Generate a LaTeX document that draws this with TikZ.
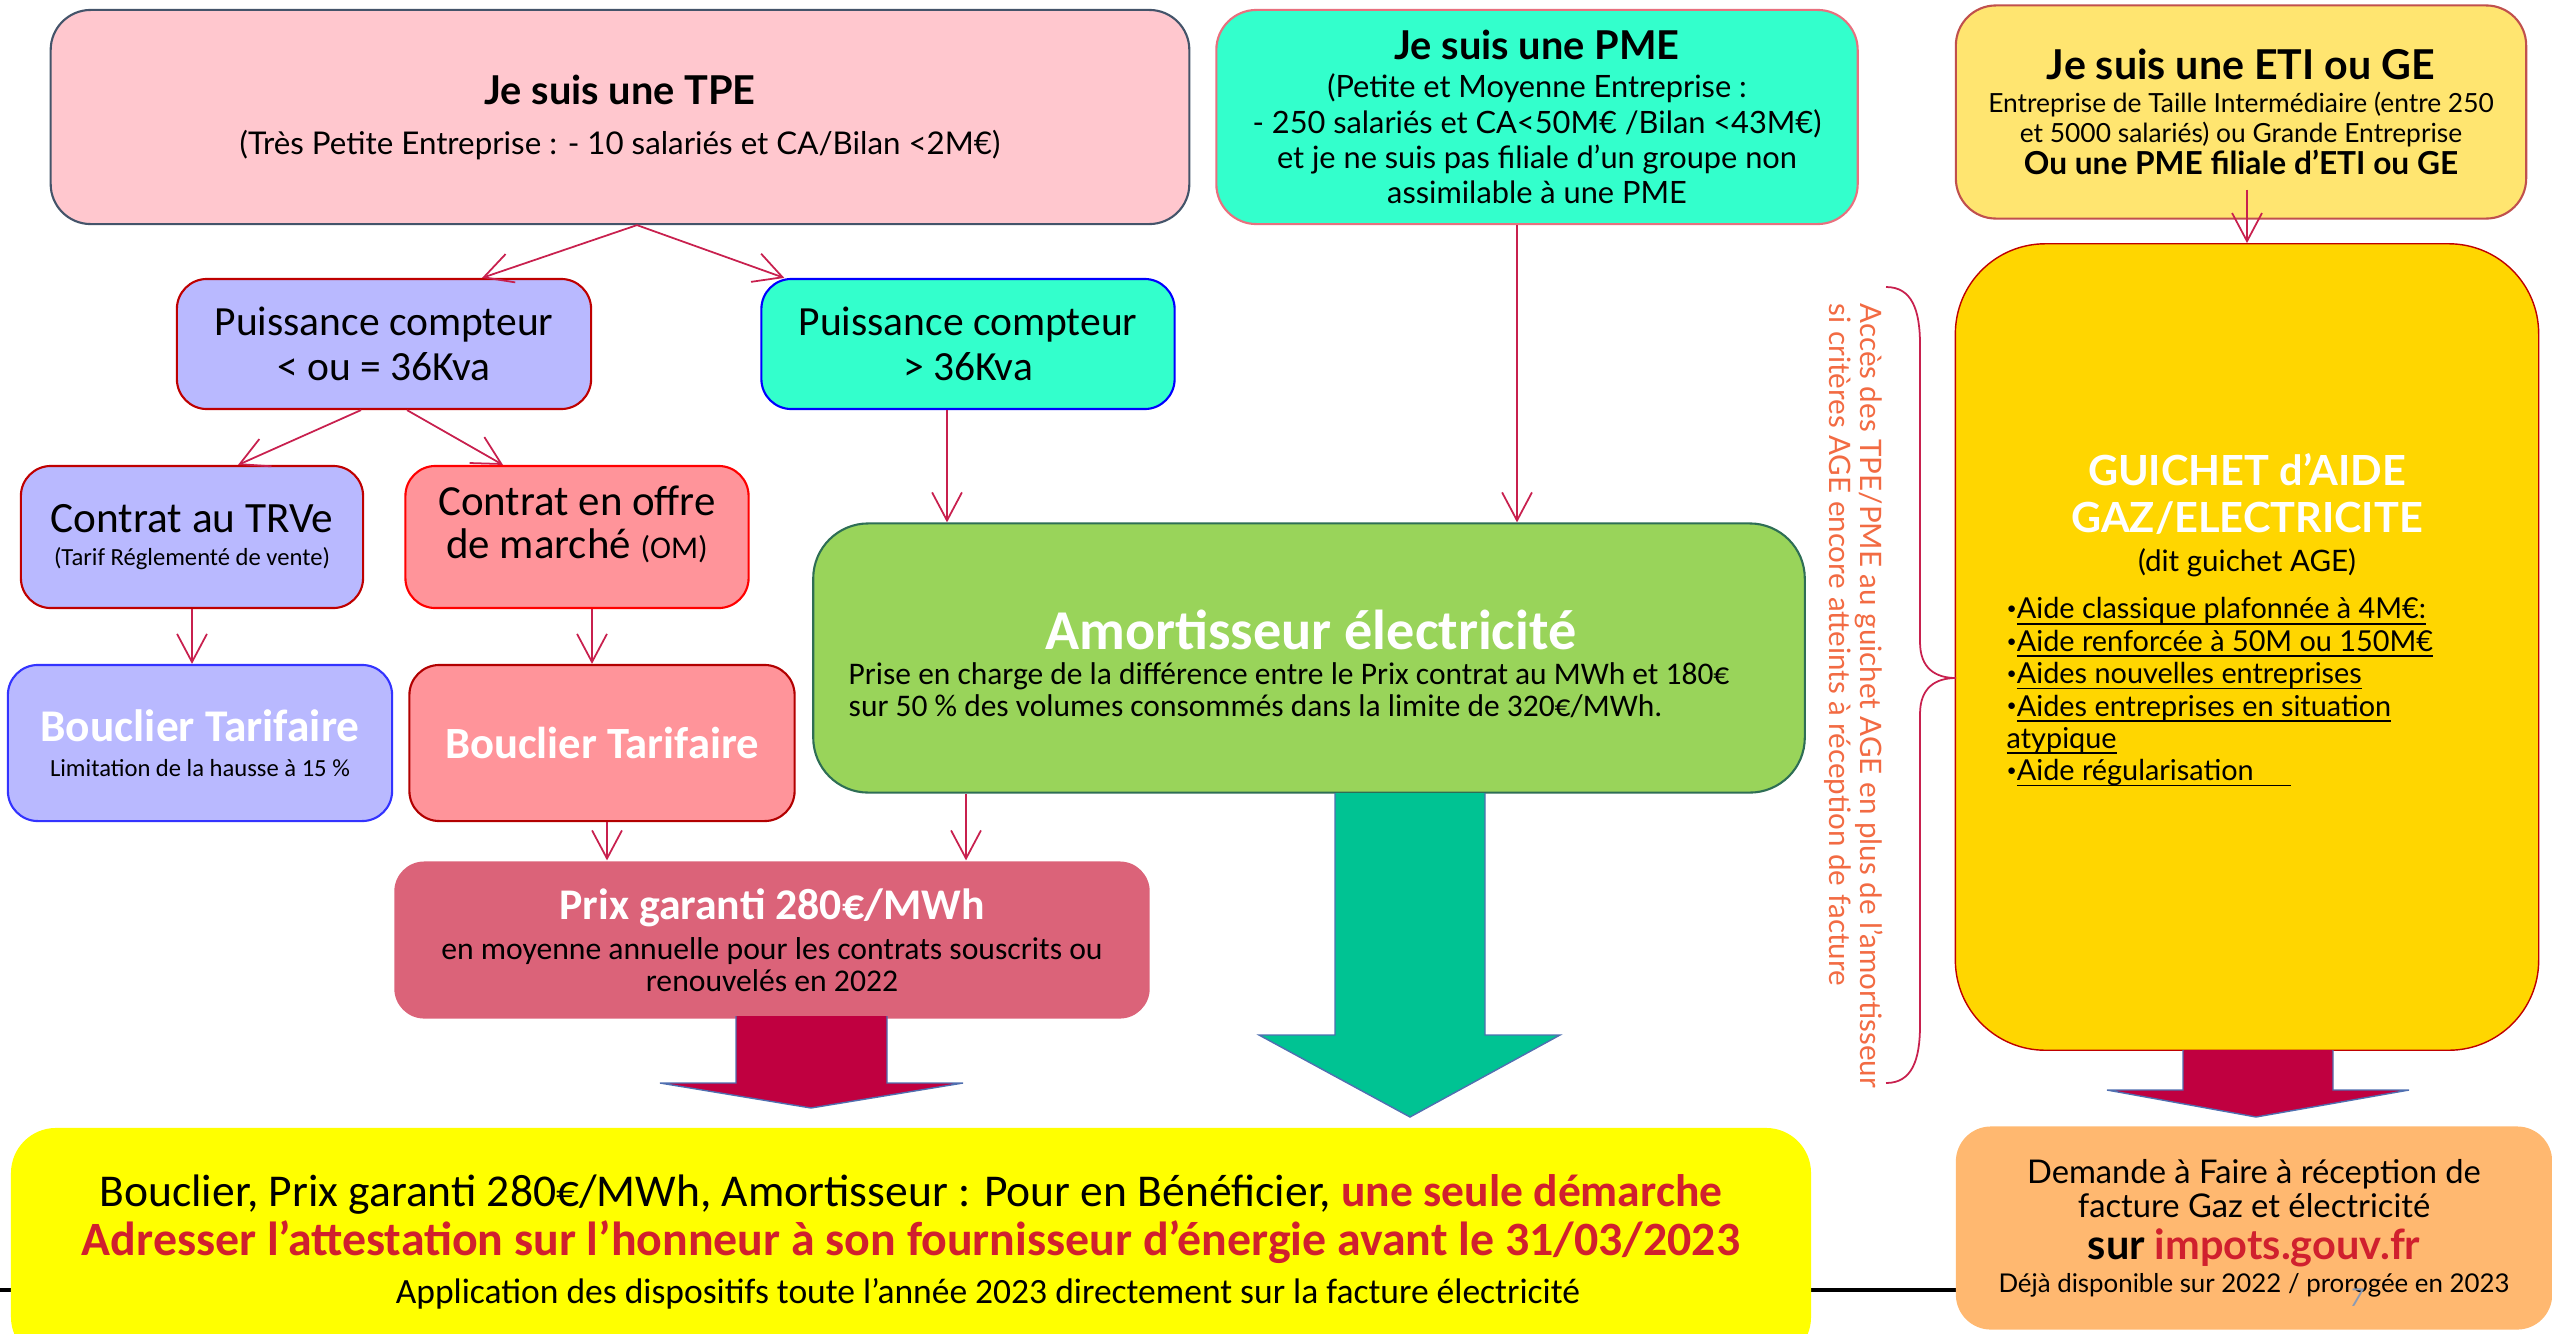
\documentclass[tikz,border=0pt]{standalone}
\usepackage{fontspec}
\setmainfont{Carlito}
\newfontfamily\mfont{Lato}
\usetikzlibrary{arrows.meta,calc}

\definecolor{tpefill}{HTML}{FFC7CE}
\definecolor{tpeline}{HTML}{44546A}
\definecolor{mint}{HTML}{33FFCC}
\definecolor{pmeline}{HTML}{E8707E}
\definecolor{etifill}{HTML}{FFE570}
\definecolor{etiline}{HTML}{C0504D}
\definecolor{lilac}{HTML}{B9B9FF}
\definecolor{salmon}{HTML}{FF949A}
\definecolor{prixfill}{HTML}{DB6379}
\definecolor{amortfill}{HTML}{99D45A}
\definecolor{amortline}{HTML}{2E6E55}
\definecolor{teal}{HTML}{00C393}
\definecolor{crimson}{HTML}{C00040}
\definecolor{gold}{HTML}{FFD600}
\definecolor{lemon}{HTML}{FFFF00}
\definecolor{apricot}{HTML}{FFB870}
\definecolor{alertred}{HTML}{D0202E}
\definecolor{noteorange}{HTML}{F26B43}
\definecolor{linkred}{HTML}{C8204E}
\definecolor{arrowline}{HTML}{4F6FB0}
\definecolor{pagegray}{HTML}{8A9BB5}

\newcommand{\fsz}[2]{\fontsize{#1}{#2}\selectfont}
\newcommand{\uln}[1]{\setbox0\hbox{#1}\rlap{\rule[-1.6pt]{\wd0}{0.45pt}}\box0}
\newcommand{\dotitem}{\raisebox{1.2pt}{\fsz{5}{5}•}}

\begin{document}
\begin{tikzpicture}[x=0.01cm, y=-0.01cm,
  box/.style={draw, rounded corners=0.3cm, line width=0.6pt, align=center, inner sep=0pt},
  link/.style={draw=linkred, line width=0.5pt, -{Straight Barb[length=8pt,width=8.5pt]}},
  bigarrow/.style={draw=arrowline, line width=0.4pt}]
\useasboundingbox (0,0) rectangle (2552,1333);
\clip (0,0) rectangle (2552,1333);

% footer rule of the slide
\draw[line width=1.15pt] (0,1290) -- (1956,1290);

% top row
\node[box, fill=tpefill, draw=tpeline, rounded corners=0.4cm, minimum width=11.38cm, minimum height=2.14cm,
  font=\mfont\fsz{8.9}{14.2}] (tpe) at (620,117)
  {{\fsz{11.3}{14.2}\bfseries Je suis une TPE}\\(Très Petite Entreprise : - 10 salariés et CA/Bilan <2M€)};
\node[box, fill=mint, draw=pmeline, rounded corners=0.4cm, minimum width=6.41cm, minimum height=2.14cm,
  font=\mfont\fsz{8.75}{10}] (pme) at (1537,117)
  {{\fsz{11.3}{10}\bfseries Je suis une PME}\\[0.8pt](Petite et Moyenne Entreprise :\\- 250 salariés et CA<50M€ /Bilan <43M€)\\et je ne suis pas filiale d’un groupe non\\assimilable à une PME};
\node[box, fill=etifill, draw=etiline, rounded corners=0.4cm, minimum width=5.70cm, minimum height=2.13cm,
  font=\mfont\fsz{7.5}{8.3}] (eti) at (2241,112)
  {{\fsz{11.7}{8.3}\bfseries Je suis une ETI ou GE}\\[1.2pt]Entreprise de Taille Intermédiaire (entre 250\\et 5000 salariés) ou Grande Entreprise\\[1pt]{\fsz{9}{8.3}\bfseries Ou une PME filiale d’ETI ou GE}};

% meter power
\node[box, fill=lilac, draw=red!75!black, minimum width=4.14cm, minimum height=1.30cm,
  font=\fsz{11.8}{13}] (plow) at (384,344) {Puissance compteur\\< ou = 36Kva};
\node[box, fill=mint, draw=blue, minimum width=4.13cm, minimum height=1.30cm,
  font=\fsz{11.8}{13}] (phigh) at (968,344) {Puissance compteur\\> 36Kva};

% contracts
\node[box, fill=lilac, draw=red!75!black, minimum width=3.42cm, minimum height=1.42cm,
  font=\fsz{7}{9.4}] (trve) at (192,537)
  {{\fsz{12.3}{9.4}Contrat au TRVe}\\(Tarif Réglementé de vente)};
\node[box, fill=salmon, draw=red, minimum width=3.43cm, minimum height=1.42cm,
  font=\fsz{12.2}{12.2}] (om) at (577,537)
  {Contrat en offre\\de marché {\fsz{9}{12.2}(OM)}\\[-4pt]};

% shields
\node[box, fill=lilac, draw=blue!80, minimum width=3.84cm, minimum height=1.56cm,
  font=\fsz{7}{10}] (bleft) at (200,743)
  {{\fsz{12.9}{10}\bfseries\color{white}Bouclier Tarifaire}\\Limitation de la hausse à 15 \%};
\node[box, fill=salmon, draw=red!70!black, minimum width=3.85cm, minimum height=1.56cm,
  font=\fsz{12.7}{13}\bfseries, text=white] (bright) at (602,743) {Bouclier Tarifaire};

% guaranteed price
\node[box, fill=prixfill, draw=none, minimum width=7.55cm, minimum height=1.57cm,
  font=\fsz{9}{8.9}] (prix) at (772,940)
  {{\fsz{12.45}{8.9}\bfseries\color{white}Prix garanti 280€/MWh}\\[2.6pt]en moyenne annuelle pour les contrats souscrits ou\\renouvelés en 2022};

% damper
\node[box, fill=amortfill, draw=amortline, rounded corners=0.55cm, minimum width=9.91cm, minimum height=2.69cm] (amort) at (1309,658) {};
\node[font=\fsz{16}{17}\bfseries, text=white, inner sep=0pt] (amorttitle) at (1311,630) {Amortisseur électricité};
\node[anchor=west, align=left, font=\fsz{8.95}{9.25}, inner sep=0pt] (amorttext) at (848,690)
  {Prise en charge de la différence entre le Prix contrat au MWh et 180€\\sur 50 \% des volumes consommés dans la limite de 320€/MWh.};

% AGE desk
\node[box, fill=gold, draw=red!75!black, line width=0.4pt, rounded corners=0.9cm, minimum width=5.83cm, minimum height=8.06cm] (guichet) at (2247,647) {};
\node[align=center, font=\mfont\fsz{11.8}{13.4}\bfseries, text=white, inner sep=0pt] (guichettitle) at (2247,515)
  {GUICHET d’AIDE\\GAZ/ELECTRICITE\\[-2.5pt]{\fsz{8.4}{11}\mdseries\color{black}(dit guichet AGE)}};
\node[anchor=north west, align=left, font=\mfont\fsz{8.2}{9.2}, inner sep=0pt] (guichetlist) at (2006,597)
  {\dotitem\uln{Aide classique plafonnée à 4M€:}\\\dotitem\uln{Aide renforcée à 50M ou 150M€}\\\dotitem\uln{Aides nouvelles entreprises}\\\dotitem\uln{Aides entreprises en situation}\\\uln{atypique}\\\dotitem\uln{Aide régularisation\hspace{1.3em}}};

% access note with brace
\draw[linkred, line width=0.5pt] (1886,287) .. controls (1912,287) and (1920,310) .. (1920,345) -- (1920,642)
  .. controls (1920,668) and (1935,678) .. (1956,678) .. controls (1935,678) and (1920,688) .. (1920,714)
  -- (1920,1025) .. controls (1920,1060) and (1912,1083) .. (1886,1083);
\node[rotate=-90, anchor=north west, align=left, font=\mfont\fsz{8.4}{8.8}, text=noteorange, inner sep=0pt] (accesnote) at (1884,303)
  {Accès des TPE/PME au guichet AGE en plus de l’amortisseur\\si critères AGE encore atteints à réception de facture};

% bottom boxes
\node[box, fill=lemon, draw=none, rounded corners=0.45cm, minimum width=17.99cm, minimum height=2.34cm] (yellowbox) at (911,1245) {};
\node[align=center, font=\fsz{12.95}{13.9}, inner sep=0pt] (bottomtext) at (911,1219)
  {Bouclier, Prix garanti 280€/MWh, Amortisseur : Pour en Bénéficier, {\bfseries\color{alertred}une seule démarche}\\{\fsz{13.6}{13.9}\bfseries\color{alertred}Adresser l’attestation sur l’honneur à son fournisseur d’énergie avant le 31/03/2023}};
\node[font=\fsz{10.1}{11}, inner sep=0pt] (bottomnote) at (988,1294)
  {Application des dispositifs toute l’année 2023 directement sur la facture électricité};
\node[box, fill=apricot, draw=none, rounded corners=0.35cm, minimum width=5.96cm, minimum height=2.03cm,
  font=\mfont\fsz{9.3}{9.7}] (impots) at (2254,1228)
  {Demande à Faire à réception de\\facture Gaz et électricité\\[2.3pt]{\fsz{11.8}{9.7}\bfseries sur {\color{alertred}impots.gouv.fr}}\\[-0.5pt]{\fsz{7.35}{9.7}Déjà disponible sur 2022 / prorogée en 2023}};
\node[font=\mfont\fsz{7}{8}\itshape, text=pagegray, inner sep=0pt] (pagenum) at (2357,1298) {7};

% block arrows
\filldraw[bigarrow, fill=crimson] (736,1016) -- (736,1083) -- (660,1083) -- (811,1108) -- (963,1083) -- (887,1083) -- (887,1016);
\filldraw[bigarrow, fill=teal] (1335,793) -- (1335,1035) -- (1259,1035) -- (1410,1117) -- (1560,1035) -- (1485,1035) -- (1485,793);
\filldraw[bigarrow, fill=crimson] (2183,1050) -- (2183,1090) -- (2107,1090) -- (2256,1117) -- (2409,1090) -- (2333,1090) -- (2333,1050);

% connectors
\draw[link] ($(tpe.south)+(17,0)$) -- ($(plow.north)+(98,0)$);
\draw[link] ($(tpe.south)+(17,0)$) -- ($(phigh.north west)+(24,0)$);
\draw[link] ($(plow.south)+(-23,0)$) -- ($(trve.north)+(46,0)$);
\draw[link] ($(plow.south)+(23,0)$) -- ($(om.north)+(-74,0)$);
\draw[link] (trve.south) -- (trve.south |- bleft.north);
\draw[link] ($(om.south)+(15,0)$) -- ($(bright.north)+(-10,0)$);
\draw[link] ($(bright.south)+(5,0)$) -- ($(prix.north)+(-165,0)$);
\draw[link] ($(phigh.south)+(-21,0)$) -- ($(amort.north)+(-362,0)$);
\draw[link] ($(pme.south)+(-20,0)$) -- ($(amort.north)+(208,0)$);
\draw[link] ($(amort.south)+(-343,0)$) -- ($(prix.north)+(194,0)$);
\draw[link] ($(eti.south)+(6,-30)$) -- (guichet.north);
\end{tikzpicture}
\end{document}
